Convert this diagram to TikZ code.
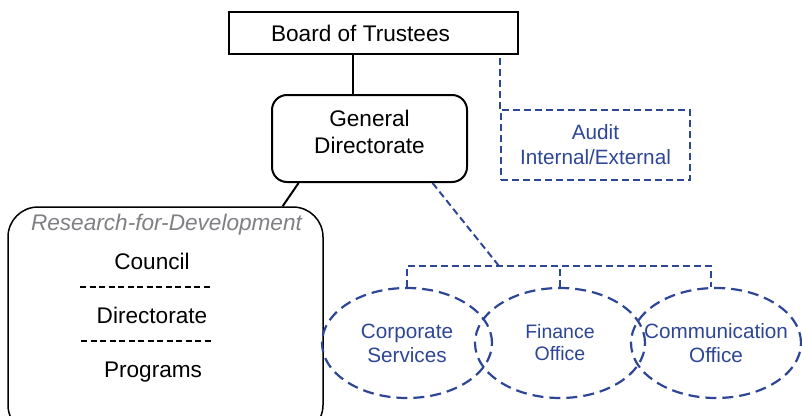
\documentclass[tikz,border=0pt]{standalone}
\usepackage{fontspec}
\setmainfont{Liberation Sans}
\usepackage{xcolor}
\usetikzlibrary{calc, shapes.geometric, positioning}
\definecolor{unitblue}{RGB}{45,70,150}
\definecolor{titlegray}{RGB}{128,128,132}

\begin{document}
\begin{tikzpicture}[x=1pt, y=-1pt, line width=2pt, every node/.style={font=\fontsize{22.6}{27}\selectfont}]
    % Define styles for boxes, units and links
    \tikzstyle{board} = [draw, rectangle, minimum width=289pt, minimum height=42pt]
    \tikzstyle{directorate} = [draw, rectangle, rounded corners=15pt, minimum width=195pt, minimum height=87pt, align=center, text depth=14pt]
    \tikzstyle{council} = [draw, rectangle, rounded corners=30pt, line width=1.5pt, minimum width=315pt, minimum height=228pt]
    \tikzstyle{audit} = [draw=unitblue, text=unitblue, rectangle, dash pattern=on 7pt off 4pt, minimum width=189pt, minimum height=70pt, align=center, font=\fontsize{20.7}{25}\selectfont]
    \tikzstyle{unit} = [draw=unitblue, text=unitblue, ellipse, dash pattern=on 11pt off 6pt, line width=2.2pt, inner xsep=-25pt, inner ysep=0pt, minimum width=170pt, minimum height=110pt, align=center, font=\fontsize{20.7}{24}\selectfont]
    \tikzstyle{link} = [draw=unitblue, dash pattern=on 7pt off 4pt]
    \tikzstyle{sepline} = [draw, line width=1.5pt, dash pattern=on 6pt off 3.5pt]

    \clip (0,0) rectangle (802,415);

    % Nodes placement
    \node [board] (board) at (373.5,33) {Board of Trustees\hspace*{26pt}};
    \node [directorate] (gd) at (369.5,138.5) {General\\Directorate};
    \node [audit] (audit) at (595.5,145) {Audit\\Internal/External};
    \node [council] (rfd) at (165.5,321) {};
    \node [anchor=base, text=titlegray, font=\fontsize{22.6}{27}\selectfont\itshape] (rfdtitle) at (166.5,230) {Research-for-Development};
    \node [anchor=base] (council) at (152,269) {Council};
    \node [anchor=base] (rfddir) at (152,323) {Directorate};
    \node [anchor=base] (programs) at (153,377) {Programs};
    \node [unit] (cs) at (407,343) {Corporate\\Services};
    \node [unit, font=\fontsize{19.5}{22}\selectfont] (fo) at (560,343) {Finance\\Office};
    \node [unit] (co) at (716,343) {Communication\\Office};

    % Draw edges
    \coordinate (stem) at ($(gd.north)+(-16.5,0)$);
    \draw (stem) -- (stem |- board.south);
    \draw ($(gd.south west)!0.14!(gd.south east)$) -- ($(rfd.north west)!0.87!(rfd.north east)$);
    \draw[link] (audit.north west) -- (audit.north west |- board.south);

    % Separators inside the council box
    \draw[sepline] (80,287) -- (213,287);
    \draw[sepline] (81,341) -- (214,341);

    % Service units hanging from the directorate
    \coordinate (bus) at (499,266);
    \draw[link] ($(gd.south west)!0.82!(gd.south east)$) -- (bus);
    \draw[link] (cs.north) |- (bus) -| ($(co.north)+(-5,0)$);
    \draw[link] (fo.north) -- (fo.north |- bus);
\end{tikzpicture}
\end{document}
